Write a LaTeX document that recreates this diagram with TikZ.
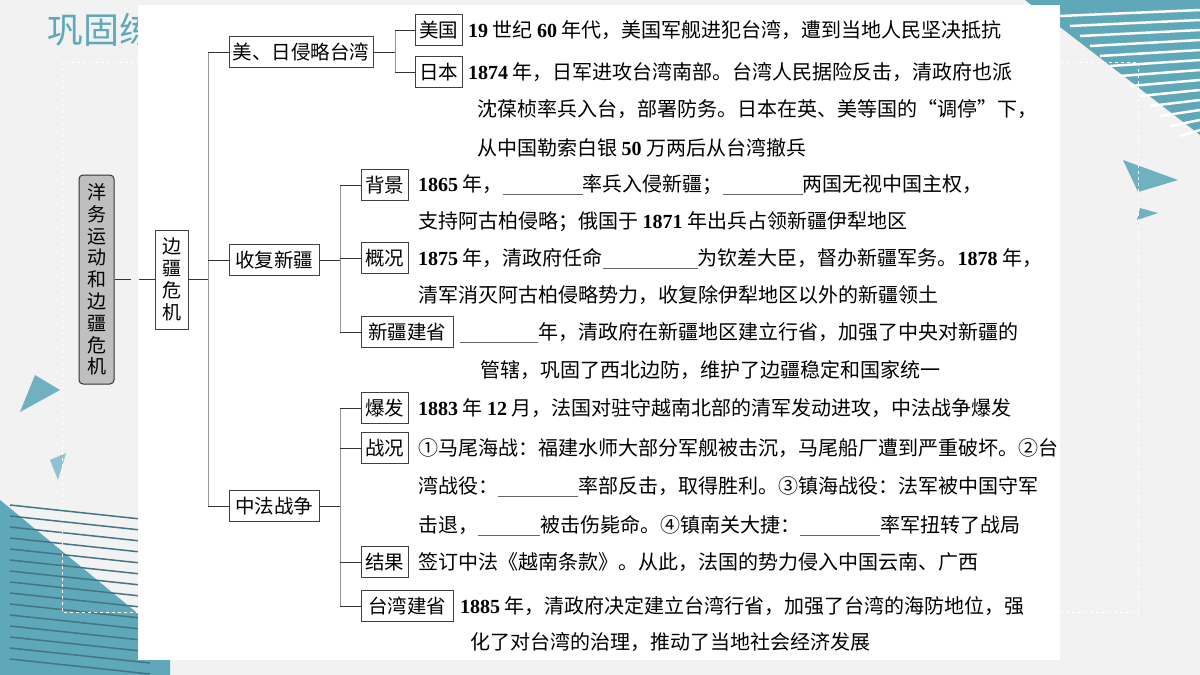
\documentclass[tikz,border=0pt]{standalone}
\usepackage{fontspec}
\setmainfont{Noto Sans CJK SC}
\newfontfamily\num{Liberation Serif}
\definecolor{teal1}{HTML}{5FA8BA}
\definecolor{bgc}{HTML}{F2F2F2}
\newcommand{\blank}[1]{\raisebox{-3pt}{\color{black!60}\rule{#1pt}{0.5pt}}}
\newcommand{\n}[1]{{\num\bfseries #1}}
\begin{document}
\begin{tikzpicture}[x=1pt,y=-1pt,
  box/.style={draw=black!75,line width=0.8pt,fill=white,inner sep=2pt,font=\fontsize{19.5}{19.5}\selectfont,minimum height=31pt},
  txt/.style={anchor=west,inner sep=0pt,font=\fontsize{20}{20}\selectfont},
  ln/.style={line width=0.9pt,black!80},
  tr/.style={line width=0.8pt,black!40}]
\useasboundingbox (0,0) rectangle (1200,675);
\fill[bgc] (0,0) rectangle (1200,675);
% decorations
\node[anchor=west,text=teal1,font=\fontsize{36}{36}\selectfont] (title) at (44,30) {巩固练};
\fill[teal1] (1025,0) -- (1200,0) -- (1200,135) -- cycle;
\foreach \i in {0,...,12}{\draw[white,line width=2.5pt] (1060+\i*10,16+\i*10) -- (1200,10+\i*10);}
\fill[teal1!90] (1123,160) -- (1178,180) -- (1138,192) -- cycle;
\fill[teal1!90] (1140,208) -- (1158,213) -- (1137,220) -- cycle;
\fill[teal1] (0,500) -- (170,640) -- (170,675) -- (0,675) -- cycle;
\foreach \i in {0,...,14}{\draw[teal1!70!black,line width=1.5pt] (10,505+\i*11) -- (150,520+\i*11);}
\fill[teal1!90] (35,375) -- (60,390) -- (20,412) -- cycle;
\fill[teal1!70] (50,460) -- (66,453) -- (58,480) -- cycle;
\draw[white,dashed,line width=1pt] (62,62) rectangle (1138,612);
\fill[white] (138,5) rectangle (1060,660);
% tree boxes
\node[draw=black!80,line width=1pt,fill=black!25,rounded corners=4pt,minimum width=35pt,minimum height=209pt,inner sep=1pt,font=\fontsize{19}{21.8}\selectfont,align=center] (root) at (96.5,279.5) {洋\\务\\运\\动\\和\\边\\疆\\危\\机};
\node[box,minimum width=33pt,minimum height=99pt,align=center,font=\fontsize{19}{22}\selectfont] (bj) at (171.5,279.5) {边\\疆\\危\\机};
\node[box,minimum width=144pt] (a) at (301,52) {美、日侵略台湾};
\node[box,minimum width=90pt] (b) at (274,260) {收复新疆};
\node[box,minimum width=90pt] (c) at (274,506) {中法战争};
\node[box,minimum width=47pt] (a1) at (438.5,30) {美国};
\node[box,minimum width=47pt] (a2) at (438.5,72) {日本};
\node[box,minimum width=47pt] (b1) at (384.5,185) {背景};
\node[box,minimum width=47pt] (b2) at (384.5,258) {概况};
\node[box,minimum width=92pt] (b3) at (407,332) {新疆建省};
\node[box,minimum width=47pt] (c1) at (384.5,408) {爆发};
\node[box,minimum width=47pt] (c2) at (384.5,448) {战况};
\node[box,minimum width=47pt] (c3) at (384.5,562) {结果};
\node[box,minimum width=92pt] (c4) at (407,606) {台湾建省};
% connectors
\draw[ln,dashed,dash pattern=on 16pt off 8pt] (root.east) -- (bj.west);
\coordinate (t0) at (208,279.5);
\draw[ln] (bj.east) -- (t0);
\draw[tr] (208,52) -- (208,506);
\foreach \k in {a,b,c}{\draw[ln] (208,0 |- \k.west) -- (\k.west);}
\draw[ln] (a.east) -- (395,52);
\draw[tr] (395,30) -- (395,72);
\foreach \k in {a1,a2}{\draw[ln] (395,0 |- \k.west) -- (\k.west);}
\draw[ln] (b.east) -- (340,260);
\draw[tr] (340,185) -- (340,332);
\foreach \k in {b1,b2,b3}{\draw[ln] (340,0 |- \k.west) -- (\k.west);}
\draw[ln] (c.east) -- (340,506);
\draw[tr] (340,408) -- (340,606);
\foreach \k in {c1,c2,c3,c4}{\draw[ln] (340,0 |- \k.west) -- (\k.west);}
% texts
\node[txt] (l1) at (468,30) {\n{19} 世纪 \n{60} 年代，美国军舰进犯台湾，遭到当地人民坚决抵抗};
\node[txt] (l2) at (468,72) {\n{1874} 年，日军进攻台湾南部。台湾人民据险反击，清政府也派};
\node[txt] (l3) at (477,109) {沈葆桢率兵入台，部署防务。日本在英、美等国的“调停”下，};
\node[txt] (l4) at (477,148) {从中国勒索白银 \n{50} 万两后从台湾撤兵};
\node[txt] (l5) at (418,185) {\n{1865} 年，\blank{80}率兵入侵新疆；\blank{80}两国无视中国主权，};
\node[txt] (l6) at (418,222) {支持阿古柏侵略；俄国于 \n{1871} 年出兵占领新疆伊犁地区};
\node[txt] (l7) at (418,258) {\n{1875} 年，清政府任命\blank{95}为钦差大臣，督办新疆军务。\n{1878} 年，};
\node[txt] (l8) at (418,295) {清军消灭阿古柏侵略势力，收复除伊犁地区以外的新疆领土};
\node[txt] (l9) at (460,332) {\blank{78}年，清政府在新疆地区建立行省，加强了中央对新疆的};
\node[txt] (l10) at (480,370) {管辖，巩固了西北边防，维护了边疆稳定和国家统一};
\node[txt] (l11) at (418,408) {\n{1883} 年 \n{12} 月，法国对驻守越南北部的清军发动进攻，中法战争爆发};
\node[txt] (l12) at (418,448) {①马尾海战：福建水师大部分军舰被击沉，马尾船厂遭到严重破坏。②台};
\node[txt] (l13) at (418,486) {湾战役：\blank{80}率部反击，取得胜利。③镇海战役：法军被中国守军};
\node[txt] (l14) at (418,525) {击退，\blank{62}被击伤毙命。④镇南关大捷：\blank{80}率军扭转了战局};
\node[txt] (l15) at (418,562) {签订中法《越南条款》。从此，法国的势力侵入中国云南、广西};
\node[txt] (l16) at (460,606) {\n{1885} 年，清政府决定建立台湾行省，加强了台湾的海防地位，强};
\node[txt] (l17) at (470,642) {化了对台湾的治理，推动了当地社会经济发展};
\end{tikzpicture}
\end{document}
